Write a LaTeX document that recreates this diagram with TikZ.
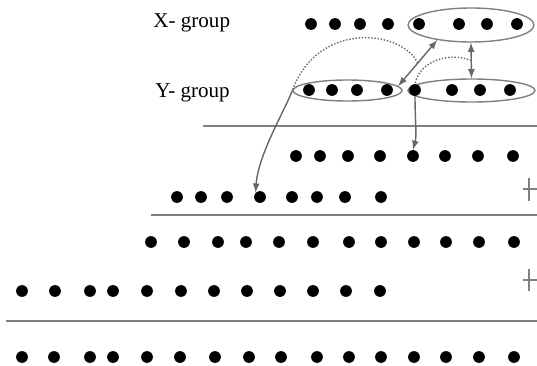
\documentclass[tikz,border=0pt]{standalone}
\usepackage{fontspec}
\setmainfont{Liberation Serif}
\usetikzlibrary{shapes.geometric}

\begin{document}
\begin{tikzpicture}[x=0.02cm,y=-0.02cm,>=latex,
  dot/.style={circle,fill=black,inner sep=0pt,minimum size=0.235cm},
  grp/.style={ellipse,draw=gray,line width=0.8pt,inner sep=0pt},
  rule/.style={gray,line width=1.3pt},
  link/.style={black!60,line width=0.8pt}]

\useasboundingbox (0,0) rectangle (537,365);

% Labels of the two groups
\node[anchor=base west,inner sep=0pt,font=\fontsize{12}{14}\selectfont] (xlab) at (153,28) {X- group};
\node[anchor=base west,inner sep=0pt,font=\fontsize{12}{14}\selectfont] (ylab) at (155,97) {Y- group};

% The groups
\node[grp,minimum width=2.52cm,minimum height=0.68cm] (xgrp) at (471,25) {};
\node[grp,minimum width=2.18cm,minimum height=0.42cm] (ygrpL) at (347.5,90.5) {};
\node[grp,minimum width=2.54cm,minimum height=0.46cm] (ygrpR) at (471.5,90.5) {};

% Rows of digits
\foreach \x [count=\i] in {311,335,360,388,419,459,487,517}
  \node[dot] (r1-\i) at (\x,24) {};
\foreach \x [count=\i] in {309,332,357,387,415,452,480,510}
  \node[dot] (r2-\i) at (\x,90) {};
\foreach \x [count=\i] in {296,320,348,380,413,445,478,513}
  \node[dot] (r3-\i) at (\x,156) {};
\foreach \x [count=\i] in {177,201,227,260,292,317,345,381}
  \node[dot] (r4-\i) at (\x,197) {};
\foreach \x [count=\i] in {151,184,218,246,279,313,349,381,414,446,479,514}
  \node[dot] (r5-\i) at (\x,242) {};
\foreach \x [count=\i] in {22,55,90,113,147,181,214,247,280,313,346,380}
  \node[dot] (r6-\i) at (\x,291) {};
\foreach \x [count=\i] in {22,54,90,113,147,180,215,249,281,317,349,381,414,446,479,514}
  \node[dot] (r7-\i) at (\x,357) {};

% Rules under the partial sums
\draw[rule] (203,126) -- (537,126);
\draw[rule] (151,215) -- (537,215);
\draw[rule] (6,321) -- (537,321);

% Plus signs
\draw[gray,line width=0.6pt] (529,178) -- (529,201) (523,189) -- (537,189);
\draw[gray,line width=0.6pt] (529,269) -- (529,291) (523,280) -- (537,280);

% Swaps between the groups
\draw[link,<->] (xgrp.204) -- (ygrpL.5) coordinate[pos=0.5] (dmid);
\draw[link,<->] (xgrp.south) -- (ygrpR.north) coordinate[pos=0.5] (vmid);

% Moves down to the partial sums
\draw[link,densely dotted] (dmid) .. controls (402,30) and (318,20) .. (ygrpL.west);
\draw[link,->] (ygrpL.west) .. controls (285,110) and (258,155) .. (r4-4.north west);
\draw[link,densely dotted] (vmid) .. controls (450,52) and (420,60) .. (r2-5.north);
\draw[link,->] (r2-5.south) .. controls (415,120) and (417,135) .. (r3-5.north);
\end{tikzpicture}
\end{document}
